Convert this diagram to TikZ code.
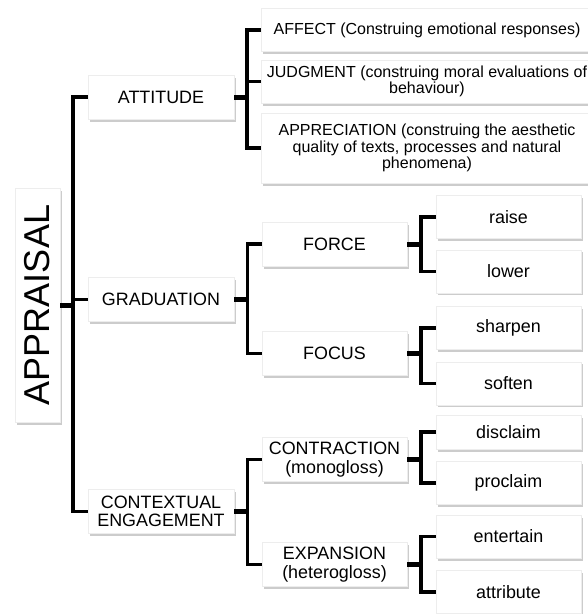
\documentclass[tikz,border=0pt]{standalone}
\usepackage{fontspec}
\setmainfont{Liberation Sans}
\usetikzlibrary{positioning, shadows}

\begin{document}
\begin{tikzpicture}[
  x=1pt, y=-1pt,
  every node/.style={font=\fontsize{17.9}{18.5}\selectfont},
  box/.style={rectangle, draw=black!7, fill=white, inner sep=0pt, align=center,
    drop shadow={shadow xshift=1.5pt, shadow yshift=-2.5pt, fill=black!40, opacity=0.5}},
  rootbox/.style={box, minimum width=45pt, minimum height=234pt, font=\fontsize{36}{36}\selectfont},
  category/.style={box, minimum width=146pt, minimum height=44pt},
  system/.style={box, minimum width=145pt, minimum height=44pt},
  gloss/.style={box, minimum width=332pt, minimum height=43pt, font=\fontsize{16}{16.5}\selectfont},
  leaf/.style={box, minimum width=145pt, minimum height=43pt},
  link/.style={line width=3.5pt},
  stub/.style={line width=5pt}
]
\useasboundingbox (0,0) rectangle (588,614);

% Root
\node[rootbox] (appraisal) at (37.5,305) {\rotatebox{90}{APPRAISAL}};

% Main systems
\node[category] (attitude) at (161,97) {ATTITUDE};
\node[category] (graduation) at (161,299.5) {GRADUATION};
\node[category] (engagement) at (161,511.5) {CONTEXTUAL\\ENGAGEMENT};

% Attitude
\node[gloss] (affect) at (427,30) {AFFECT (Construing emotional responses)};
\node[gloss] (judgment) at (427,81.5) {JUDGMENT (construing moral evaluations of\\behaviour)};
\node[gloss, minimum height=70pt] (appreciation) at (427,148) {APPRECIATION (construing the aesthetic\\quality of texts, processes and natural\\phenomena)};

% Graduation
\node[system] (force) at (334.5,244) {FORCE};
\node[system] (focus) at (334.5,353.5) {FOCUS};
\node[leaf] (raise) at (508.5,217) {raise};
\node[leaf, below=11pt of raise] (lower) {lower};
\node[leaf] (sharpen) at (508.5,328) {sharpen};
\node[leaf, below=12pt of sharpen] (soften) {soften};

% Engagement
\node[system] (contraction) at (334.5,459.5) {CONTRACTION\\(monogloss)};
\node[system] (expansion) at (334.5,564.5) {EXPANSION\\(heterogloss)};
\node[leaf, minimum height=34pt] (disclaim) at (508.5,432) {disclaim};
\node[leaf, below=12pt of disclaim] (proclaim) {proclaim};
\node[leaf] (entertain) at (508.5,536.5) {entertain};
\node[leaf, below=12pt of entertain] (attribute) {attribute};

% Brackets
\draw[stub] (appraisal.east) -- ++(14.5,0);
\draw[link] (attitude.west) -- ++(-15,0) |- (engagement.west);
\draw[link] (graduation.west) -- ++(-15,0);

\draw[stub] (attitude.east) -- ++(14.5,0);
\draw[link] (affect.west) -- ++(-14,0) |- (appreciation.west);
\draw[link] (judgment.west) -- ++(-14,0);

\draw[stub] (graduation.east) -- ++(15,0);
\draw[link] (force.west) -- ++(-14.5,0) |- (focus.west);
\draw[stub] (engagement.east) -- ++(15,0);
\draw[link] (contraction.west) -- ++(-14.5,0) |- (expansion.west);

\draw[stub] (force.east) -- ++(15,0);
\draw[link] (raise.west) -- ++(-15,0) |- (lower.west);
\draw[stub] (focus.east) -- ++(15,0);
\draw[link] (sharpen.west) -- ++(-15,0) |- (soften.west);
\draw[stub] (contraction.east) -- ++(15,0);
\draw[link] (disclaim.west) -- ++(-15,0) |- (proclaim.west);
\draw[stub] (expansion.east) -- ++(15,0);
\draw[link] (entertain.west) -- ++(-15,0) |- (attribute.west);

\end{tikzpicture}
\end{document}
